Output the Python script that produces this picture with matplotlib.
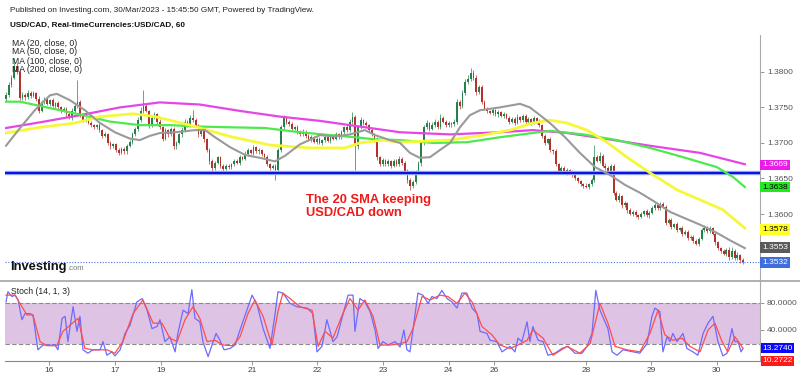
import matplotlib.pyplot as plt
import matplotlib.transforms as mtransforms
from matplotlib.lines import Line2D
import numpy as np

plt.rcParams['font.family'] = ['Liberation Sans', 'DejaVu Sans']

# hourly closes, USD/CAD
closes = [
    1.3768, 1.3782, 1.3792, 1.3808, 1.3800, 1.3763, 1.3768, 1.3764, 1.3770, 1.3766,
    1.3770, 1.3762, 1.3745, 1.3758, 1.3762, 1.3755, 1.3760, 1.3752, 1.3756, 1.3750,
    1.3745, 1.3748, 1.3740, 1.3735, 1.3745, 1.3752, 1.3758, 1.3740, 1.3732, 1.3733,
    1.3728, 1.3725, 1.3722, 1.3725, 1.3718, 1.3710, 1.3712, 1.3700, 1.3695, 1.3698,
    1.3690, 1.3686, 1.3692, 1.3688, 1.3696, 1.3702, 1.3712, 1.3720, 1.3732, 1.3745,
    1.3752, 1.3745, 1.3725, 1.3735, 1.3740, 1.3730, 1.3722, 1.3706, 1.3718, 1.3712,
    1.3720, 1.3695, 1.3700, 1.3712, 1.3718, 1.3730, 1.3725, 1.3735, 1.3732, 1.3725,
    1.3712, 1.3718, 1.3705, 1.3690, 1.3675, 1.3665, 1.3672, 1.3680, 1.3668, 1.3664,
    1.3668, 1.3666, 1.3670, 1.3675, 1.3672, 1.3680, 1.3678, 1.3685, 1.3690, 1.3686,
    1.3694, 1.3688, 1.3690, 1.3684, 1.3680, 1.3670, 1.3665, 1.3668, 1.3662, 1.3690,
    1.3722, 1.3735, 1.3730, 1.3726, 1.3720, 1.3722, 1.3716, 1.3712, 1.3716, 1.3710,
    1.3705, 1.3708, 1.3702, 1.3706, 1.3700, 1.3704, 1.3708, 1.3703, 1.3710, 1.3706,
    1.3712, 1.3708, 1.3715, 1.3722, 1.3718, 1.3730, 1.3736, 1.3695, 1.3722, 1.3732,
    1.3728, 1.3725, 1.3718, 1.3712, 1.3705, 1.3680, 1.3670, 1.3676, 1.3670, 1.3674,
    1.3668, 1.3675, 1.3670, 1.3678, 1.3672, 1.3660, 1.3648, 1.3640, 1.3645, 1.3660,
    1.3672, 1.3700, 1.3722, 1.3728, 1.3720, 1.3725, 1.3730, 1.3722, 1.3735, 1.3730,
    1.3725, 1.3728, 1.3726, 1.3730, 1.3758, 1.3752, 1.3770, 1.3785, 1.3790, 1.3798,
    1.3792, 1.3772, 1.3778, 1.3758, 1.3748, 1.3745, 1.3742, 1.3746, 1.3740, 1.3743,
    1.3738, 1.3740, 1.3735, 1.3730, 1.3734, 1.3728, 1.3736, 1.3732, 1.3738, 1.3730,
    1.3733, 1.3728, 1.3735, 1.3730, 1.3725, 1.3710, 1.3700, 1.3705, 1.3690, 1.3688,
    1.3670, 1.3660, 1.3665, 1.3658, 1.3662, 1.3660, 1.3655, 1.3650, 1.3646, 1.3642,
    1.3640, 1.3638, 1.3642, 1.3648, 1.3680, 1.3675, 1.3682, 1.3668, 1.3665, 1.3660,
    1.3668, 1.3630, 1.3620, 1.3625, 1.3612, 1.3615, 1.3605, 1.3600, 1.3603, 1.3598,
    1.3596, 1.3600, 1.3604, 1.3598, 1.3602, 1.3608, 1.3612, 1.3608, 1.3614, 1.3610,
    1.3588, 1.3592, 1.3582, 1.3586, 1.3578, 1.3580, 1.3572, 1.3575, 1.3566, 1.3568,
    1.3562, 1.3558, 1.3565, 1.3578, 1.3580, 1.3576, 1.3580, 1.3572, 1.3560, 1.3552,
    1.3548, 1.3544, 1.3550, 1.3540, 1.3548, 1.3538, 1.3542, 1.3535, 1.3532,
]
first_open = 1.3762

# wick length beyond the body, in pips
hi_wick = [
    3, 4, 3, 12, 5, 4, 3, 2, 4, 3,   3, 2, 4, 3, 2, 3, 2, 3, 2, 3,
    2, 3, 2, 3, 4, 3, 30, 3, 2, 3,   2, 3, 2, 2, 3, 2, 3, 2, 3, 2,
    2, 3, 2, 2, 3, 2, 3, 2, 4, 5,    23, 3, 2, 4, 3, 2, 3, 2, 3, 2,
    3, 2, 3, 2, 4, 3, 2, 4, 11, 3,   2, 3, 2, 2, 3, 2, 3, 2, 2, 3,
    2, 3, 2, 3, 2, 3, 2, 4, 3, 2,    3, 2, 3, 2, 2, 3, 2, 2, 3, 3,
    3, 4, 3, 2, 3, 2, 3, 2, 3, 2,    2, 3, 2, 3, 2, 2, 3, 2, 3, 2,
    3, 2, 3, 2, 4, 3, 8, 3, 3, 4,    2, 3, 2, 3, 2, 3, 2, 3, 2, 3,
    2, 3, 2, 3, 2, 2, 3, 2, 3, 2,    3, 4, 3, 4, 2, 5, 3, 2, 6, 3,
    2, 3, 2, 3, 4, 3, 4, 5, 6, 8,    4, 3, 4, 3, 2, 3, 2, 3, 2, 3,
    2, 3, 2, 3, 2, 3, 4, 2, 3, 2,    3, 2, 3, 2, 3, 2, 3, 2, 3, 2,
    3, 2, 3, 2, 3, 2, 2, 3, 2, 2,    2, 3, 2, 3, 17, 3, 5, 3, 4, 3,
    3, 2, 3, 4, 2, 3, 2, 3, 2, 2,    2, 3, 2, 3, 2, 3, 4, 2, 3, 3,
    3, 2, 3, 2, 3, 2, 3, 2, 2, 3,    2, 3, 2, 3, 4, 3, 3, 2, 3, 2,
    2, 3, 2, 3, 5, 3, 4, 2, 3,
]
lo_wick = [
    3, 3, 4, 2, 3, 3, 2, 3, 2, 3,    2, 3, 3, 2, 3, 2, 3, 2, 3, 2,
    3, 2, 3, 2, 3, 2, 3, 3, 2, 3,    2, 3, 2, 3, 2, 3, 2, 3, 4, 2,
    3, 3, 2, 4, 3, 2, 3, 2, 3, 2,    3, 2, 4, 3, 2, 3, 2, 3, 2, 3,
    2, 4, 3, 2, 3, 2, 3, 2, 3, 2,    3, 2, 3, 3, 4, 8, 3, 2, 3, 4,
    2, 3, 2, 3, 2, 3, 2, 2, 3, 2,    3, 2, 3, 2, 3, 2, 3, 2, 14, 4,
    3, 2, 3, 2, 3, 2, 3, 2, 2, 3,    2, 3, 2, 3, 2, 3, 2, 2, 3, 2,
    2, 3, 2, 3, 2, 3, 3, 33, 3, 2,   3, 2, 3, 2, 3, 4, 3, 2, 3, 2,
    3, 2, 3, 2, 3, 3, 4, 6, 3, 3,    3, 4, 3, 2, 3, 2, 3, 2, 3, 2,
    3, 2, 3, 2, 3, 4, 3, 3, 2, 3,    3, 4, 3, 3, 2, 3, 2, 3, 2, 3,
    2, 3, 2, 3, 2, 3, 2, 3, 2, 3,    2, 3, 2, 3, 2, 3, 3, 2, 3, 3,
    3, 2, 3, 2, 3, 2, 3, 2, 3, 2,    3, 2, 3, 3, 3, 2, 3, 2, 3, 3,
    3, 3, 2, 3, 3, 2, 3, 2, 3, 2,    3, 2, 3, 2, 3, 2, 3, 2, 3, 2,
    3, 2, 3, 2, 3, 2, 3, 2, 3, 2,    3, 2, 3, 2, 3, 2, 3, 2, 3, 2,
    3, 2, 3, 4, 3, 2, 3, 4, 2,
]

# moving averages (bar number, price)
ma20_bar = [0, 5.1, 10.5, 16, 18.5, 23.3, 28.7, 34.2, 39.6, 45.1, 48.7, 52.4, 56, 61.5,
            68.7, 72.4, 76, 81.5, 87, 92.4, 97.8, 101.5, 106.9, 114.2, 119.6, 125.1,
            130.5, 134.2, 139.6, 143.3, 146.9, 150.5, 154.2, 157.8, 161.5, 165.1, 168.7,
            172.4, 179.6, 186.9, 190.5, 194.2, 197.8, 203.3, 208.7, 214.2, 219.6, 225.1,
            230.5, 236, 241.5, 246.9, 252.4, 257.8, 263.3, 268.7]
ma20 = [1.3696, 1.3721, 1.3746, 1.3767, 1.3769, 1.3760, 1.3746, 1.3728, 1.3715, 1.3706,
        1.3704, 1.3710, 1.3714, 1.3715, 1.3718, 1.3718, 1.3708, 1.3694, 1.3683, 1.3679,
        1.3674, 1.3682, 1.3698, 1.3711, 1.3709, 1.3712, 1.3718, 1.3711, 1.3704, 1.3700,
        1.3686, 1.3679, 1.3680, 1.3690, 1.3700, 1.3722, 1.3739, 1.3746, 1.3750, 1.3755,
        1.3750, 1.3739, 1.3728, 1.3708, 1.3686, 1.3666, 1.3655, 1.3641, 1.3630, 1.3617,
        1.3603, 1.3594, 1.3585, 1.3575, 1.3563, 1.3552]
ma50_bar = [0, 12.4, 25.1, 34.2, 46.2, 54.2, 66.9, 81.5, 96, 110.5, 123.3, 128.7, 137.1,
            143.3, 161.5, 173.5, 183.3, 191.6, 197.8, 204, 211.3, 218.5, 225.8, 234.2,
            244, 252.4, 260.7, 268.7]
ma50 = [1.3714, 1.3722, 1.3728, 1.3737, 1.3741, 1.3737, 1.3725, 1.3709, 1.3697, 1.3693,
        1.3693, 1.3700, 1.3704, 1.3701, 1.3704, 1.3711, 1.3718, 1.3728, 1.3732, 1.3728,
        1.3718, 1.3701, 1.3680, 1.3658, 1.3634, 1.3620, 1.3606, 1.3580]
ma100_bar = [0, 5.1, 16, 26.9, 37.8, 48.7, 59.6, 70.5, 81.5, 94.2, 106.9, 117.8, 126.9,
             134.2, 143.3, 155.3, 167.6, 179.6, 191.6, 197.8, 209.8, 222.2, 234.2, 246.2,
             258.5, 264.4, 268.7]
ma100 = [1.3758, 1.3758, 1.3749, 1.3740, 1.3730, 1.3725, 1.3725, 1.3723, 1.3722, 1.3721,
         1.3715, 1.3711, 1.3708, 1.3705, 1.3704, 1.3700, 1.3701, 1.3708, 1.3714, 1.3717,
         1.3712, 1.3704, 1.3693, 1.3680, 1.3666, 1.3652, 1.3638]
ma200_bar = [0, 12.4, 26.9, 41.5, 56, 70.5, 85.1, 99.6, 114.2, 128.7, 143.3, 161.5, 179.6,
             191.6, 204, 216, 234.2, 252.4, 268.7]
ma200 = [1.3721, 1.3729, 1.3739, 1.3750, 1.3757, 1.3754, 1.3745, 1.3737, 1.3731, 1.3723,
         1.3715, 1.3712, 1.3715, 1.3718, 1.3714, 1.3707, 1.3696, 1.3686, 1.3670]

support = 1.3658
last_price = 1.3532

# stochastic %K and %D
k_bar = [0, 0.7, 2.2, 3.3, 4.4, 5.8, 6.9, 8.7, 9.8, 11.6,
         13.5, 16.0, 17.8, 18.9, 20.4, 21.5, 22.5, 24.4, 25.8, 26.9,
         28.0, 29.8, 31.6, 34.2, 35.3, 36.7, 38.5, 39.6, 41.5, 43.3,
         45.1, 47.6, 49.5, 51.3, 53.1, 54.9, 56.0, 57.8, 59.6, 61.5,
         62.5, 64.4, 66.2, 67.6, 68.7, 70.5, 71.6, 73.5, 74.9, 76.4,
         77.8, 79.3, 81.5, 83.3, 85.1, 87.6, 89.5, 91.3, 93.5, 96.0,
         97.8, 98.9, 100.7, 103.3, 105.8, 109.5, 111.6, 113.1, 114.9, 116.7,
         118.9, 120.4, 122.5, 124.4, 126.2, 126.9, 128.7, 130.5, 132.4, 134.2,
         135.3, 137.1, 138.9, 141.5, 143.3, 144.7, 145.8, 146.9, 148.0, 149.8,
         151.6, 153.5, 154.9, 156.7, 158.5, 160.4, 162.2, 164.0, 165.8, 167.6,
         169.5, 171.3, 172.4, 174.9, 176.0, 178.5, 180.4, 183.3, 185.1, 186.2,
         187.6, 189.5, 190.5, 191.6, 193.5, 195.3, 197.1, 199.6, 202.2, 204.4,
         206.9, 209.5, 211.3, 213.1, 214.5, 216.0, 217.8, 218.9, 220.4, 222.2,
         224.4, 228.0, 230.5, 233.1, 234.9, 236.0, 237.8, 238.9, 240.4, 241.5,
         242.5, 244.0, 246.2, 247.6, 249.8, 251.6, 253.5, 255.3, 257.1, 258.9,
         260.7, 262.2, 264.0, 265.1, 266.2, 267.3, 268.0]
k_val = [81, 96, 89, 91, 84, 55, 64, 64, 62, 11,
         18, 18, 18, 11, 57, 60, 23, 74, 38, 60,
         11, 6, 11, 11, 23, 3, 8, 2, 11, 35,
         47, 81, 86, 69, 42, 45, 55, 23, 30, 8,
         35, 69, 64, 99, 57, 52, 23, 1, 18, 35,
         25, 11, 13, 18, 40, 69, 91, 77, 42, 13,
         62, 96, 94, 79, 74, 72, 64, 8, 16, 55,
         23, 30, 62, 91, 91, 38, 86, 81, 67, 40,
         13, 23, 18, 23, 15, 40, 11, 8, 40, 94,
         91, 79, 89, 86, 98, 86, 81, 72, 94, 94,
         72, 64, 38, 35, 25, 23, 8, 16, 8, 28,
         23, 52, 23, 45, 25, 23, 3, 6, 13, 16,
         6, 6, 16, 35, 98, 69, 52, 42, 8, 3,
         11, 8, 6, 20, 60, 72, 67, 8, 30, 23,
         35, 23, 35, 13, 8, 3, 35, 50, 60, 23,
         2, 6, 42, 23, 23, 8, 13]
d_bar = [0, 3.3, 5.8, 7.6, 9.8, 12.4, 14.9, 18.5, 20.7, 23.3,
         26.2, 28.7, 31.6, 36.7, 39.6, 42.5, 46.2, 49.8, 53.5, 56.7,
         59.6, 62.2, 65.1, 68.0, 70.5, 73.1, 76.0, 78.9, 82.5, 85.1,
         88.0, 90.5, 93.5, 96.7, 98.9, 100.7, 103.3, 106.9, 111.3, 113.5,
         116.0, 118.9, 122.5, 125.1, 128.0, 130.5, 133.5, 136.0, 139.6, 143.3,
         145.8, 148.0, 151.3, 154.2, 157.8, 160.7, 164.0, 166.9, 169.5, 173.1,
         176.7, 179.6, 183.3, 186.2, 189.5, 191.6, 195.3, 198.9, 204.0, 208.7,
         212.4, 216.0, 218.9, 221.5, 225.8, 230.5, 234.2, 237.1, 239.6, 242.5,
         245.8, 248.7, 252.4, 255.3, 257.8, 260.4, 262.5, 265.1, 266.9, 268.0]
d_val = [91, 91, 74, 62, 62, 23, 17, 17, 38, 47,
         57, 13, 11, 11, 6, 23, 64, 84, 50, 50,
         28, 23, 55, 74, 57, 23, 25, 18, 17, 30,
         64, 84, 60, 18, 67, 94, 86, 74, 69, 16,
         38, 28, 64, 86, 69, 84, 60, 18, 18, 20,
         23, 42, 89, 84, 91, 89, 79, 94, 81, 45,
         33, 18, 13, 18, 25, 40, 28, 3, 16, 6,
         20, 79, 50, 16, 11, 8, 35, 69, 33, 25,
         28, 16, 8, 40, 50, 23, 8, 30, 20, 13]

date_pos = [15.6, 39.6, 56.4, 89.5, 113, 137, 161, 177.5, 211, 234.5, 258.5]
date_lab = ['16', '17', '19', '21', '22', '23', '24', '26', '28', '29', '30']
price_ticks = [1.3600, 1.3650, 1.3700, 1.3750, 1.3800]

tag_vals = [1.3669, 1.3638, 1.3578, 1.3553, 1.3532]
tag_bg = ['#e81ee8', '#22e822', '#ffff22', '#5a5a5a', '#3f6ddb']
tag_fg = ['white', 'black', 'black', 'white', 'white']
stoch_tags = [13.2740, 10.2722]
stoch_tag_bg = ['#0a0aff', '#ff1a1a']

ma_names = ['MA (20, close, 0)', 'MA (50, close, 0)', 'MA (100, close, 0)', 'MA (200, close, 0)']

# ---------------------------------------------------------------
W, H = 800, 376
fig = plt.figure(figsize=(W / 100, H / 100), dpi=100)
fig.patch.set_facecolor('white')

ax = fig.add_axes([5 / W, 95 / H, 755 / W, 246 / H])
sx = fig.add_axes([5 / W, 15 / H, 755 / W, 80 / H], sharex=ax)

n = len(closes)
idx = np.arange(n)
c = np.array(closes)
o = np.array([first_open] + closes[:-1])
top = np.maximum(o, c)
bot = np.minimum(o, c)
hi = top + np.array(hi_wick) * 0.0001
lo = bot - np.array(lo_wick) * 0.0001
up = c >= o
col = np.where(up, '#25814a', '#b3332b')

ax.vlines(idx, lo, hi, colors=col, lw=0.7, alpha=0.7, zorder=2)
ax.bar(idx, np.maximum(top - bot, 0.00006), bottom=bot, width=0.7, color=col,
       edgecolor='none', zorder=3)

ax.axhline(support, color='#a9bcff', lw=3.2, zorder=4)
ax.axhline(support, color='#0b12e6', lw=1.7, zorder=5)
ax.axhline(last_price, color='#4a78e0', lw=0.8, ls=(0, (1, 1.5)), zorder=4)

ax.plot(ma200_bar, ma200, color='#e646e6', lw=1.6, zorder=6)
ax.plot(ma100_bar, ma100, color='#4fe84f', lw=1.6, zorder=6)
ax.plot(ma50_bar, ma50, color='#f7f73a', lw=2.0, zorder=6)
ax.plot(ma20_bar, ma20, color='#9a9a9a', lw=1.5, zorder=7)

ax.set_xlim(-0.36, 274.2)
ax.set_ylim(1.35058, 1.38518)
for s in ['top', 'left', 'bottom']:
    ax.spines[s].set_visible(False)
ax.spines['right'].set_color('#aaaaaa')
ax.yaxis.tick_right()
ax.set_yticks(price_ticks)
ax.set_yticklabels(['%.4f' % p for p in price_ticks])
ax.tick_params(axis='y', length=3, width=0.6, color='#888888', labelsize=6,
               labelcolor='#555555', pad=2)
ax.tick_params(axis='x', bottom=False, labelbottom=False)

ax.text(109.1, 1.36105, 'The 20 SMA keeping\nUSD/CAD down', color='#f01818',
        fontsize=9.3, fontweight='bold', ha='left', va='center', linespacing=1.15,
        zorder=8)

tr = mtransforms.blended_transform_factory(ax.transAxes, ax.transData)
for v, bg, fg in zip(tag_vals, tag_bg, tag_fg):
    ax.text(1.003, v, '%.4f' % v, transform=tr, ha='left', va='center', fontsize=6,
            color=fg, bbox=dict(boxstyle='square,pad=0.22', fc=bg, ec='none'),
            clip_on=False, zorder=9)

# stochastic panel
sx.fill_between([-0.36, 274.2], 20, 80, color='#dfc3e4', lw=0, zorder=1)
sx.axhline(80, color='#8a8a8a', lw=0.8, ls=(0, (4, 2)), zorder=2)
sx.axhline(20, color='#8a8a8a', lw=0.8, ls=(0, (4, 2)), zorder=2)
sx.plot(k_bar, k_val, color='#6b6bff', lw=0.9, zorder=3)
sx.plot(d_bar, d_val, color='#ff4d4d', lw=0.9, zorder=4)
sx.set_ylim(-5.4, 111.7)
sx.spines['top'].set_visible(False)
sx.spines['left'].set_visible(False)
sx.spines['right'].set_color('#aaaaaa')
sx.spines['bottom'].set_color('#888888')
sx.yaxis.tick_right()
sx.set_yticks([40, 80])
sx.set_yticklabels(['40.0000', '80.0000'])
sx.tick_params(axis='y', length=3, width=0.6, color='#888888', labelsize=6,
               labelcolor='#555555', pad=2)
sx.set_xticks(date_pos)
sx.set_xticklabels(date_lab)
sx.tick_params(axis='x', length=3, width=0.6, color='#888888', labelsize=6,
               labelcolor='#444444', pad=1.5)
str_ = mtransforms.blended_transform_factory(sx.transAxes, sx.transData)
# the lower tag is pushed down so the two boxes stack, as in the terminal
for v, bg, shift in zip(stoch_tags, stoch_tag_bg, [0, -7.6]):
    sx.annotate('%.4f' % v, xy=(1.003, v), xycoords=str_, xytext=(0, shift),
                textcoords='offset points', ha='left', va='center', fontsize=6,
                color='white', bbox=dict(boxstyle='square,pad=0.2', fc=bg, ec='none'),
                annotation_clip=False, zorder=9)
sx.text(6 / 755, 1.0 - 10 / 80, 'Stoch (14, 1, 3)', transform=sx.transAxes,
        fontsize=6.2, color='#222222', ha='left', va='center')

fig.add_artist(Line2D([0, 1], [95 / H, 95 / H], color='#aaaaaa', lw=1.3,
                      transform=fig.transFigure))

# header and legend texts
fig.text(10 / W, 1 - 11 / H,
         'Published on Investing.com, 30/Mar/2023 - 15:45:50 GMT, Powered by TradingView.',
         fontsize=5.9, color='#222222', ha='left', va='center')
fig.text(10 / W, 1 - 25 / H, 'USD/CAD, Real-timeCurrencies:USD/CAD, 60',
         fontsize=5.9, fontweight='bold', color='#111111', ha='left', va='center')
for k, name in enumerate(ma_names):
    fig.text(12 / W, 1 - (43 + 9 * k) / H, name, fontsize=6.2, color='#222222',
             ha='left', va='center')

fig.text(10 / W, 1 - 267 / H, 'Investing', fontsize=9.3, fontweight='bold',
         color='#111111', ha='left', va='center')
fig.text(67 / W, 1 - 268 / H, '.com', fontsize=5.5, color='#777777',
         ha='left', va='center')

fig.savefig('out.png', dpi=100)
